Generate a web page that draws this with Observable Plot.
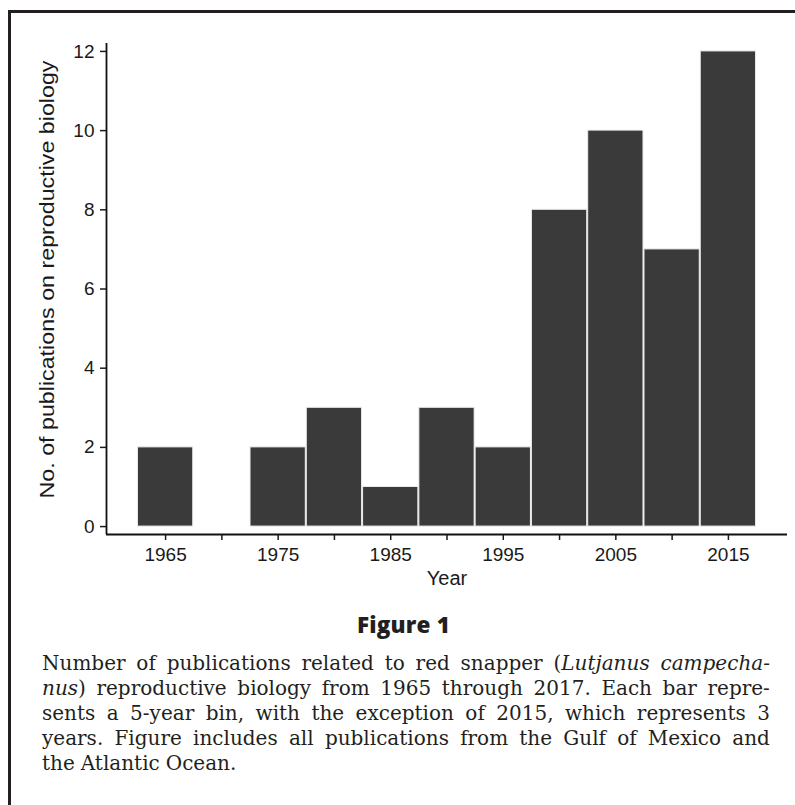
<!DOCTYPE html>
<html>
<head>
<meta charset="utf-8">
<script src="https://cdn.jsdelivr.net/npm/d3@7"></script>
<script src="https://cdn.jsdelivr.net/npm/@observablehq/plot@0.6"></script>
<style>
  html, body { margin: 0; padding: 0; background: #fff; }
  #page { position: relative; width: 795px; height: 805px; overflow: hidden; background: #fff; }
  #frame { position: absolute; left: 8px; top: 10px; width: 820px; height: 820px;
           border-left: 3px solid #231f20; border-top: 3px solid #231f20; }
  #chart { position: absolute; left: 0; top: 0; }
  #fig { position: absolute; left: 6px; width: 795px; top: 613px; text-align: center;
         font-family: "Open Sans", Roboto, sans-serif; font-weight: 800; font-size: 22.5px;
         line-height: 24px; color: #231f20; letter-spacing: 0.2px; }
  #caption { position: absolute; left: 42px; width: 728px; top: 651px;
             font-family: "DejaVu Serif", serif; font-size: 20px; line-height: 25px; color: #231f20; }
  #caption .l { display: flex; justify-content: space-between; white-space: nowrap; }
  #caption .last { display: flex; justify-content: flex-start; white-space: nowrap; gap: 0.3em; }
  #caption span { display: inline-block; }
</style>
</head>
<body>
<div id="page">
  <div id="frame"></div>
  <div id="chart"></div>
  <div id="fig">Figure 1</div>
  <div id="caption"></div>
</div>
<script>
// Data
const binYears = [1965, 1970, 1975, 1980, 1985, 1990, 1995, 2000, 2005, 2010, 2015];
const publicationCounts = [2, 0, 2, 3, 1, 3, 2, 8, 10, 7, 12];
const binWidthYears = 5;
const xTickYears = [1965, 1970, 1975, 1980, 1985, 1990, 1995, 2000, 2005, 2010, 2015];
const xLabelYears = [1965, 1975, 1985, 1995, 2005, 2015];
const yTicks = [0, 2, 4, 6, 8, 10, 12];
const xTitle = "Year";
const yTitle = "No. of publications on reproductive biology";
// caption lines as typeset in the reference (_..._ marks italics)
const captionLines = [
  "Number of publications related to red snapper (_Lutjanus campecha-_",
  "_nus_) reproductive biology from 1965 through 2017. Each bar repre-",
  "sents a 5-year bin, with the exception of 2015, which represents 3",
  "years. Figure includes all publications from the Gulf of Mexico and",
  "the Atlantic Ocean."
];

const xDomain = [1959.75, 2020.25];
const yDomain = [-0.2, 12.2];

const bars = binYears
  .map((year, i) => ({ year, n: publicationCounts[i] }))
  .filter(d => d.n > 0);

const chart = Plot.plot({
  width: 795,
  height: 600,
  marginLeft: 106,
  marginRight: 8,
  marginTop: 43,
  marginBottom: 66,
  style: { fontFamily: "Liberation Sans, Arial, sans-serif", color: "#1a1a1a", background: "transparent", overflow: "visible" },
  x: { type: "linear", domain: xDomain },
  y: { domain: yDomain },
  marks: [
    Plot.rectY(bars, {
      x1: d => d.year - binWidthYears / 2,
      x2: d => d.year + binWidthYears / 2,
      y1: 0,
      y2: "n",
      fill: "#3a3a3a",
      stroke: "#ececec",
      strokeWidth: 1,
      insetLeft: 0.5,
      insetRight: 0.5
    }),
    Plot.axisY(yTicks, {
      tickSize: 6, tickPadding: 6, fontSize: 19, strokeWidth: 1.5,
      tickFormat: d => String(d), label: null
    }),
    Plot.axisX(xTickYears, {
      tickSize: 6, tickPadding: 7, fontSize: 19, strokeWidth: 1.5,
      tickFormat: d => xLabelYears.includes(d) ? String(d) : "", label: null
    }),
    Plot.ruleX([xDomain[0]], { stroke: "#111", strokeWidth: 1.8 }),
    Plot.ruleY([yDomain[0]], { stroke: "#111", strokeWidth: 1.8 }),
    Plot.text([xTitle], { frameAnchor: "bottom", dy: 50, fontSize: 20, fill: "#1a1a1a" }),
    Plot.text([yTitle], {
      frameAnchor: "bottom-left", textAnchor: "start", rotate: -90,
      dx: -53, dy: -36, fontSize: 20, fill: "#1a1a1a", className: "ytitle"
    })
  ]
});

document.getElementById("chart").appendChild(chart);

// the original lettering is stretched vertically; stretch the rotated title to its length
const yt = chart.querySelector(".ytitle text");
if (yt) {
  yt.setAttribute("textLength", "438");
  yt.setAttribute("lengthAdjust", "spacingAndGlyphs");
}

// build justified caption with the reference's line breaks
const cap = document.getElementById("caption");
let italic = false;
captionLines.forEach((line, li) => {
  const div = document.createElement("div");
  div.className = li === captionLines.length - 1 ? "last" : "l";
  line.split(" ").forEach(word => {
    const span = document.createElement("span");
    let html = "";
    let buf = "";
    const flush = () => { if (buf) { html += italic ? "<i>" + buf + "</i>" : buf; buf = ""; } };
    for (const ch of word) {
      if (ch === "_") { flush(); italic = !italic; }
      else buf += ch;
    }
    flush();
    span.innerHTML = html;
    div.appendChild(span);
  });
  cap.appendChild(div);
});

// fit the font so that the widest justified line still keeps a normal word space
const capWidth = cap.clientWidth;
let fs = 20;
let need = 0;
cap.querySelectorAll(".l").forEach(div => {
  const spans = [...div.children];
  const w = spans.reduce((s, sp) => s + sp.getBoundingClientRect().width, 0) + (spans.length - 1) * fs * 0.3;
  need = Math.max(need, w);
});
if (need > capWidth) {
  cap.style.fontSize = (fs * capWidth / need).toFixed(2) + "px";
}
</script>
</body>
</html>
